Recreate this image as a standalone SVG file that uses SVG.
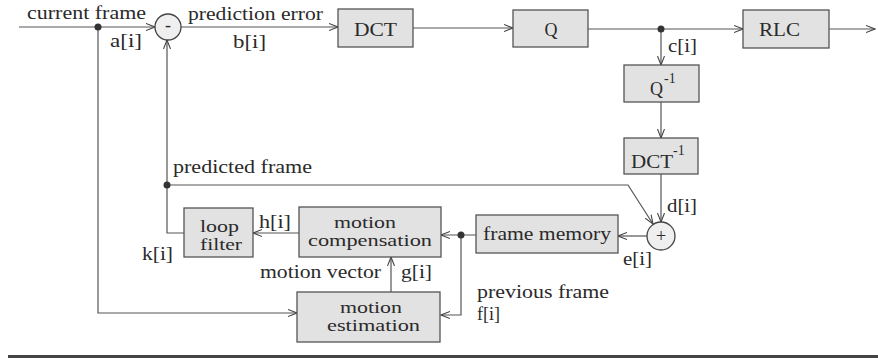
<svg xmlns="http://www.w3.org/2000/svg" width="878" height="358" viewBox="0 0 878 358">
<defs>
<marker id="arr" markerWidth="10" markerHeight="8" refX="9" refY="4" orient="auto" markerUnits="userSpaceOnUse">
<path d="M0,0.5 L9,4 L0,7.5" fill="none" stroke="#444" stroke-width="1.1"/>
</marker>
<style>
.box{fill:#e2e2e2;stroke:#555;stroke-width:1.3}
.circ{fill:#efefef;stroke:#444;stroke-width:1.3}
.ln{fill:none;stroke:#555;stroke-width:1.2}
.ar{fill:none;stroke:#555;stroke-width:1.2;marker-end:url(#arr)}
.dot{fill:#333}
text{font-family:"Liberation Serif","Times New Roman",serif;font-size:18px;fill:#2a2a2a}
.c{text-anchor:middle}
.sup{font-size:14px}
.two{font-size:16px}
</style>
</defs>
<rect width="878" height="358" fill="#ffffff"/>

<g id="connectors">
<path class="ar" d="M19,27 H155"/>
<path class="ar" d="M181,27 H338"/>
<path class="ar" d="M413,28 H513"/>
<path class="ar" d="M588,29 H743"/>
<path class="ar" d="M829,29 H875"/>
<path class="ar" d="M661,29 V65"/>
<path class="ar" d="M661,102 V138"/>
<path class="ar" d="M661,174 V222"/>
<path class="ar" d="M167,185 H628 L653,224"/>
<path class="ar" d="M647,236 H618"/>
<path class="ar" d="M476,235 H441"/>
<path class="ar" d="M461,235 V315 H441"/>
<path class="ar" d="M299,233 H253"/>
<path class="ar" d="M184,233 H167 V40"/>
<path class="ar" d="M98,27 V313 H297"/>
<path class="ar" d="M391,292 V257"/>
<circle class="dot" cx="98" cy="27" r="3.5"/>
<circle class="dot" cx="661" cy="29" r="3.5"/>
<circle class="dot" cx="167" cy="185" r="3.5"/>
<circle class="dot" cx="461" cy="235" r="3.5"/>
</g>

<g id="labels">
<text x="27" y="19" textLength="119" lengthAdjust="spacingAndGlyphs">current frame</text>
<text x="110" y="47" textLength="32" lengthAdjust="spacingAndGlyphs">a[i]</text>
<text x="188" y="20" textLength="135" lengthAdjust="spacingAndGlyphs">prediction error</text>
<text x="233" y="48" textLength="33" lengthAdjust="spacingAndGlyphs">b[i]</text>
<text x="668" y="52" textLength="29" lengthAdjust="spacingAndGlyphs">c[i]</text>
<text x="667" y="212" textLength="30" lengthAdjust="spacingAndGlyphs">d[i]</text>
<text x="623" y="265" textLength="29" lengthAdjust="spacingAndGlyphs">e[i]</text>
<text x="477" y="298" textLength="132" lengthAdjust="spacingAndGlyphs">previous frame</text>
<text x="477" y="320" textLength="23" lengthAdjust="spacingAndGlyphs">f[i]</text>
<text x="260" y="278" textLength="121" lengthAdjust="spacingAndGlyphs">motion vector</text>
<text x="401" y="278" textLength="31" lengthAdjust="spacingAndGlyphs">g[i]</text>
<text x="259" y="228" textLength="32" lengthAdjust="spacingAndGlyphs">h[i]</text>
<text x="142" y="260" textLength="31" lengthAdjust="spacingAndGlyphs">k[i]</text>
<text x="173" y="173" textLength="139" lengthAdjust="spacingAndGlyphs">predicted frame</text>
</g>

<g id="sub">
<circle class="circ" cx="168" cy="27" r="13"/>
<text x="168" y="31" class="c">-</text>
</g>
<g id="dct">
<rect class="box" x="338" y="9" width="75" height="38"/>
<text x="354" y="36" textLength="43" lengthAdjust="spacingAndGlyphs">DCT</text>
</g>
<g id="q">
<rect class="box" x="513" y="10" width="75" height="37"/>
<text x="551" y="36" class="c">Q</text>
</g>
<g id="rlc">
<rect class="box" x="743" y="10" width="86" height="38"/>
<text x="759" y="36" textLength="41" lengthAdjust="spacingAndGlyphs">RLC</text>
</g>
<g id="qinv">
<rect class="box" x="624" y="65" width="75" height="37"/>
<text x="650" y="95">Q</text>
<text x="664" y="83" class="sup">-1</text>
</g>
<g id="dctinv">
<rect class="box" x="624" y="138" width="74" height="36"/>
<text x="631" y="168" textLength="42" lengthAdjust="spacingAndGlyphs">DCT</text>
<text x="673" y="155" class="sup">-1</text>
</g>
<g id="add">
<circle class="circ" cx="661" cy="236" r="14"/>
<text x="661" y="242" class="c">+</text>
</g>
<g id="framememory">
<rect class="box" x="476" y="215" width="142" height="38"/>
<text x="483" y="240" textLength="128" lengthAdjust="spacingAndGlyphs">frame memory</text>
</g>
<g id="motioncompensation">
<rect class="box" x="299" y="207" width="142" height="50"/>
<text class="two" x="334" y="228" textLength="62" lengthAdjust="spacingAndGlyphs">motion</text>
<text class="two" x="308" y="246" textLength="124" lengthAdjust="spacingAndGlyphs">compensation</text>
</g>
<g id="loopfilter">
<rect class="box" x="184" y="208" width="69" height="49"/>
<text class="two" x="200" y="232" textLength="39" lengthAdjust="spacingAndGlyphs">loop</text>
<text class="two" x="200" y="250" textLength="42" lengthAdjust="spacingAndGlyphs">filter</text>
</g>
<g id="motionestimation">
<rect class="box" x="297" y="292" width="143" height="50"/>
<text class="two" x="340" y="313" textLength="62" lengthAdjust="spacingAndGlyphs">motion</text>
<text class="two" x="327" y="331" textLength="93" lengthAdjust="spacingAndGlyphs">estimation</text>
</g>

<rect x="8" y="355" width="870" height="3" fill="#444"/>
</svg>
